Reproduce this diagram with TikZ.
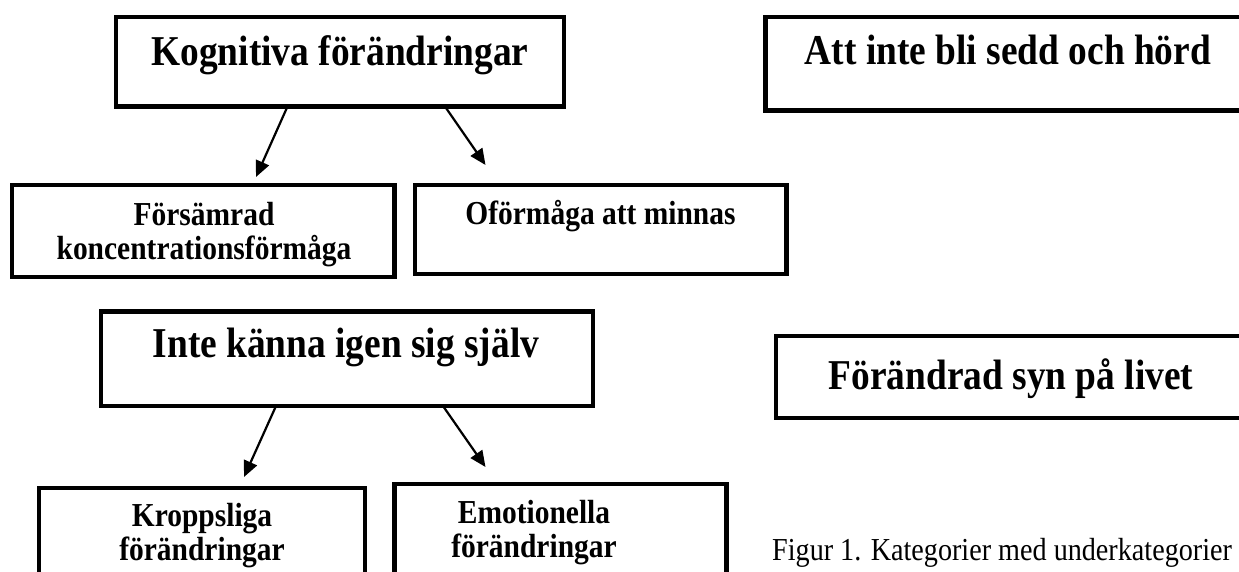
\documentclass[tikz,border=0pt]{standalone}
\usepackage{fontspec}
\setmainfont{Liberation Serif}[FakeStretch=0.88]
\usetikzlibrary{arrows.meta}

\begin{document}
\begin{tikzpicture}[x=1pt, y=-1pt,
    box/.style={draw, line width=4.5pt, inner sep=0pt, outer sep=0pt, anchor=north west},
    head/.style={font=\fontsize{42.5}{48}\selectfont\bfseries, anchor=base, inner sep=0pt},
    sub/.style={font=\fontsize{33.5}{33.5}\selectfont\bfseries, align=center, anchor=base, inner sep=0pt},
    capt/.style={font=\fontsize{32}{36}\selectfont, anchor=base west, inner sep=0pt},
    arr/.style={-{Triangle[length=16pt, width=14pt]}, line width=2.2pt}]
    \useasboundingbox (0,0) rectangle (1239,572);
    \clip (0,0) rectangle (1239,572);
    % boxes
    \node[box, minimum width=448pt, minimum height=89.5pt] (kog) at (116,17) {};
    \node[box, minimum width=485pt, minimum height=93.5pt] (sedd) at (765.5,17) {};
    \node[box, minimum width=382.5pt, minimum height=92pt] (fors) at (12,185) {};
    \node[box, minimum width=371.5pt, minimum height=89pt] (minn) at (415,185) {};
    \node[box, minimum width=492pt, minimum height=94.3pt] (sjalv) at (101,311.7) {};
    \node[box, minimum width=470pt, minimum height=82pt] (syn) at (776,336) {};
    \node[box, minimum width=326pt, minimum height=120pt] (kropp) at (39,488) {};
    \node[box, minimum width=332pt, minimum height=120pt] (emo) at (394.5,484) {};
    % texts (multi-line ones sit on their last line)
    \node[head] (kogL) at (340,66) {Kognitiva förändringar};
    \node[head] (seddL) at (1008,65) {Att inte bli sedd och hörd};
    \node[sub] (forsL) at (204,259) {Försämrad\\koncentrationsförmåga};
    \node[sub] (minnL) at (600.5,225) {Oförmåga att minnas};
    \node[head] (sjalvL) at (346,357) {Inte känna igen sig själv};
    \node[head] (synL) at (1011,389) {Förändrad syn på livet};
    \node[sub] (kroppL) at (202,560) {Kroppsliga\\förändringar};
    \node[sub] (emoL) at (534,557) {Emotionella\\förändringar};
    \node[capt] (fig) at (772,560) {Figur 1. Kategorier med underkategorier};
    % arrows
    \coordinate (t1) at (256,177);
    \coordinate (t2) at (485.5,165);
    \coordinate (t3) at (244,477);
    \coordinate (t4) at (485.5,467);
    \foreach \s/\dx/\t in {kog/-52.5/t1, kog/105/t2, sjalv/-71/t3, sjalv/96/t4}
      \draw[arr] ([xshift=\dx pt]\s.south) -- (\t);
\end{tikzpicture}
\end{document}
